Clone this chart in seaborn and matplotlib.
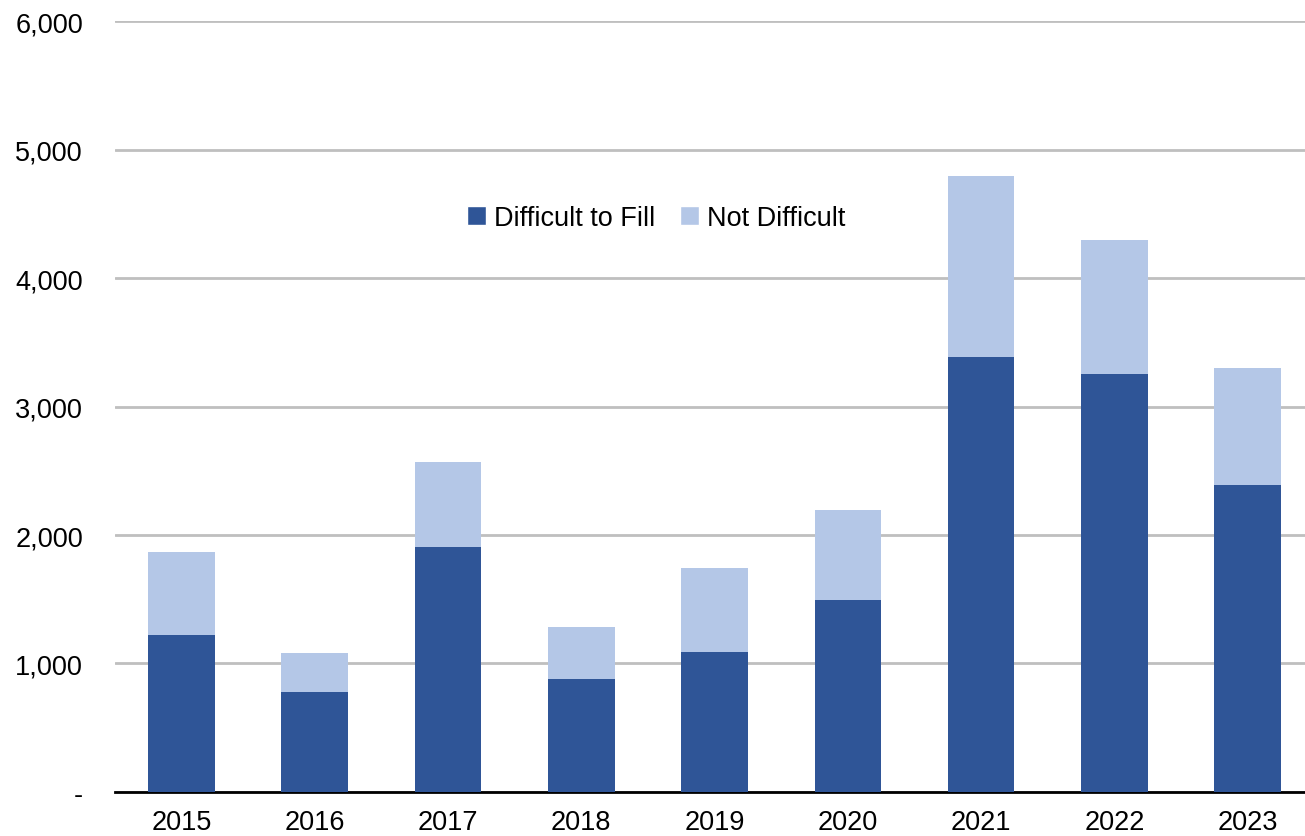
import numpy as np
import pandas as pd
import seaborn as sns
import matplotlib.pyplot as plt
from matplotlib.patches import Patch
from matplotlib.ticker import FuncFormatter

years = ["2015", "2016", "2017", "2018", "2019", "2020", "2021", "2022", "2023"]
difficult = [1220, 780, 1905, 880, 1090, 1495, 3385, 3255, 2390]
not_difficult = [645, 300, 660, 405, 655, 700, 1410, 1040, 910]

dark = "#2F5597"
light = "#B4C7E7"

df = pd.DataFrame({"year": years, "difficult": difficult, "not_difficult": not_difficult})
df["total"] = df["difficult"] + df["not_difficult"]

sns.set_style("white")
plt.rcParams["font.family"] = ["Liberation Sans", "DejaVu Sans"]

fig = plt.figure(figsize=(13.05, 8.37), dpi=100)
ax = fig.add_axes([0.088, 0.0526, 0.912, 0.921])

# stacked bars: total in light, then difficult on top in dark
sns.barplot(data=df, x="year", y="total", color=light, width=0.5, saturation=1,
            linewidth=0, edgecolor="none", ax=ax, zorder=2)
sns.barplot(data=df, x="year", y="difficult", color=dark, width=0.5, saturation=1,
            linewidth=0, edgecolor="none", ax=ax, zorder=3)

ax.set_ylim(0, 6000)
ax.set_xlim(-0.5, 8.43)
ax.set_yticks(np.arange(0, 6001, 1000))
ax.yaxis.set_major_formatter(FuncFormatter(lambda v, p: "-" if v == 0 else f"{int(v):,}"))
ax.yaxis.grid(True, color="#BFBFBF", linewidth=2)
ax.set_axisbelow(True)
ax.set_xlabel("")
ax.set_ylabel("")

for s in ["left", "right", "top"]:
    ax.spines[s].set_visible(False)
ax.spines["bottom"].set_color("black")
ax.spines["bottom"].set_linewidth(2)

ax.tick_params(axis="both", length=0, labelsize=19.5, colors="black")
ax.tick_params(axis="y", pad=23)
ax.tick_params(axis="x", pad=12)

handles = [Patch(facecolor=dark, label="Difficult to Fill"),
           Patch(facecolor=light, label="Not Difficult")]
leg = ax.legend(handles=handles, loc="center", bbox_to_anchor=(0.455, 0.744), ncol=2, frameon=False,
                fontsize=19.5, handlelength=0.7, handleheight=0.7, handletextpad=0.3, columnspacing=0.9)
for t in leg.get_texts():
    t.set_color("black")

fig.savefig("out.png", dpi=100)
